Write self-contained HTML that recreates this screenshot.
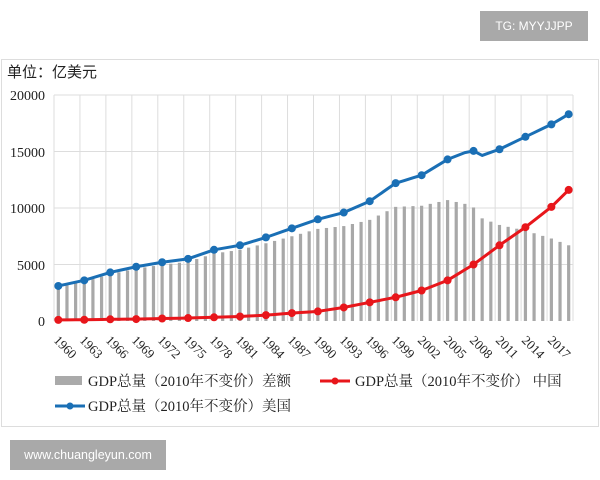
<!DOCTYPE html>
<html><head><meta charset="utf-8"><style>
body{margin:0;background:#fff;width:600px;height:480px;overflow:hidden;position:relative;font-family:"Liberation Serif","Noto Serif CJK SC",serif}
.badge{position:absolute;background:#a9a9a9;color:#fff;font-family:"Liberation Sans",sans-serif}
</style></head><body>
<div class="badge" style="left:480px;top:11px;width:108px;height:30px;line-height:30px;text-align:center;font-size:12px">TG: MYYJJPP</div>
<div style="position:absolute;left:1px;top:59px;width:596px;height:366px;border:1px solid #ddd"></div>
<div class="badge" style="left:10px;top:440px;width:156px;height:30px;line-height:30px;text-align:center;font-size:12.5px">www.chuangleyun.com</div>
<svg id="s" width="600" height="480" style="position:absolute;left:0;top:0" font-family="Liberation Serif, Noto Serif CJK SC, serif">
<text x="7" y="77" font-size="15" font-family="Liberation Sans, Noto Sans CJK SC, sans-serif" fill="#222">单位：亿美元</text>
<g font-size="14" fill="#222" text-anchor="end">
<text x="45" y="100">20000</text><text x="45" y="157">15000</text><text x="45" y="213">10000</text><text x="45" y="270">5000</text><text x="45" y="326">0</text>
</g>
<g id="g"></g>
<g font-size="14.5" fill="#222">
<rect x="55" y="376" width="27" height="9" fill="#aaa"/>
<text x="88" y="386">GDP总量（2010年不变价）差额</text>
<line x1="320" y1="381" x2="350" y2="381" stroke="#e8161b" stroke-width="3"/><circle cx="335" cy="381" r="3.5" fill="#e8161b"/>
<text x="355" y="386">GDP总量（2010年不变价） 中国</text>
<line x1="55" y1="406" x2="85" y2="406" stroke="#1a6fb5" stroke-width="3"/><circle cx="70" cy="406" r="3.5" fill="#1a6fb5"/>
<text x="88" y="411">GDP总量（2010年不变价）美国</text>
</g>
<g font-size="13" fill="#222">
<text transform="translate(53,341) rotate(45)">1960</text><text transform="translate(79,341) rotate(45)">1963</text><text transform="translate(105,341) rotate(45)">1966</text><text transform="translate(131,341) rotate(45)">1969</text><text transform="translate(157,341) rotate(45)">1972</text><text transform="translate(183,341) rotate(45)">1975</text><text transform="translate(209,341) rotate(45)">1978</text><text transform="translate(235,341) rotate(45)">1981</text><text transform="translate(261,341) rotate(45)">1984</text><text transform="translate(287,341) rotate(45)">1987</text><text transform="translate(313,341) rotate(45)">1990</text><text transform="translate(339,341) rotate(45)">1993</text><text transform="translate(365,341) rotate(45)">1996</text><text transform="translate(391,341) rotate(45)">1999</text><text transform="translate(417,341) rotate(45)">2002</text><text transform="translate(443,341) rotate(45)">2005</text><text transform="translate(469,341) rotate(45)">2008</text><text transform="translate(495,341) rotate(45)">2011</text><text transform="translate(521,341) rotate(45)">2014</text><text transform="translate(547,341) rotate(45)">2017</text>
</g>
</svg>
<script>
var g=document.getElementById('g'),h='';
var L=54,R=573,T=95,B=321;
for(var i=0;i<=20;i++){var x=L+i*(R-L)/20;h+='<line x1="'+x+'" y1="'+T+'" x2="'+x+'" y2="'+B+'" stroke="#ddd"/>';}
for(var j=0;j<4;j++){var y=T+j*(B-T)/4;h+='<line x1="'+L+'" y1="'+y+'" x2="'+R+'" y2="'+y+'" stroke="#ddd"/>';}
var us=[[0,3100],[3,3600],[6,4300],[9,4800],[12,5200],[15,5500],[18,6300],[21,6700],[24,7400],[27,8200],[30,9000],[33,9600],[36,10600],[39,12200],[42,12900],[45,14300],[47,14900],[48,15050],[49,14650],[51,15200],[54,16300],[57,17400],[59,18300]];
var cn=[[0,100],[3,110],[6,150],[9,170],[12,220],[15,260],[18,330],[21,400],[24,520],[27,700],[30,850],[33,1200],[36,1650],[39,2100],[42,2700],[45,3600],[48,5000],[51,6700],[54,8300],[57,10100],[59,11600]];
function f(a,t){for(var k=0;k<a.length-1;k++)if(t<=a[k+1][0]){var r=(t-a[k][0])/(a[k+1][0]-a[k][0]);return a[k][1]+r*(a[k+1][1]-a[k][1]);}return a[a.length-1][1];}
var w=(R-L)/60;function X(i){return L+w/2+i*w;}function Y(v){return B-v*(B-T)/20000;}
for(var i=0;i<60;i++){var d=f(us,i)-f(cn,i);h+='<rect x="'+(X(i)-1.6)+'" y="'+Y(d)+'" width="3.2" height="'+(B-Y(d))+'" fill="#a8a8a8"/>';}
function line(a,c){var p=[];for(var i=0;i<60;i++)p.push(X(i)+','+Y(f(a,i)));var s='<polyline points="'+p.join(' ')+'" fill="none" stroke="'+c+'" stroke-width="3" stroke-linejoin="round"/>';
for(var i=0;i<60;i+=3)s+='<circle cx="'+X(i)+'" cy="'+Y(f(a,i))+'" r="4" fill="'+c+'"/>';s+='<circle cx="'+X(59)+'" cy="'+Y(f(a,59))+'" r="4" fill="'+c+'"/>';return s;}
h+=line(cn,'#e8161b')+line(us,'#1a6fb5');
g.innerHTML=h;
</script>
</body></html>
